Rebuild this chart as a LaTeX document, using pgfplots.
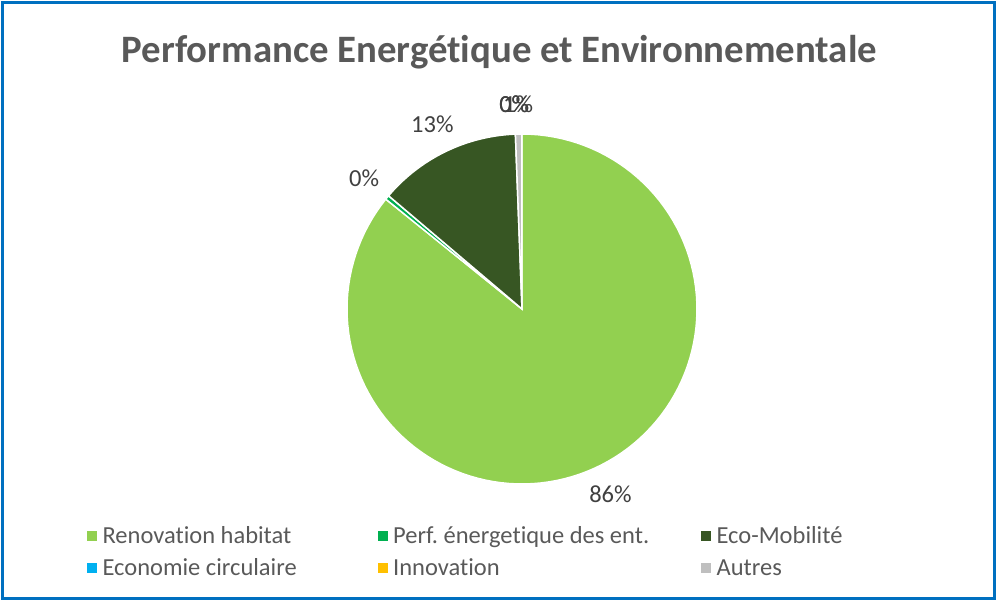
\documentclass[border=0pt]{standalone}
\usepackage{pgfplots}
\pgfplotsset{compat=1.18}
\usepackage{pgfplotstable}
\usepackage{fontspec}
\setmainfont{Carlito}[Ligatures=NoCommon]
\frenchspacing

\definecolor{c0}{HTML}{92D050}
\definecolor{c1}{HTML}{00B050}
\definecolor{c2}{HTML}{375623}
\definecolor{c3}{HTML}{00B0F0}
\definecolor{c4}{HTML}{FFC000}
\definecolor{c5}{HTML}{BFBFBF}
\definecolor{frame}{HTML}{0070C0}
\definecolor{titlegray}{HTML}{595959}
\definecolor{labgray}{HTML}{404040}

% shares in percent, clockwise from 12 o'clock
\pgfplotstableread[col sep=comma]{
name,value
Renovation habitat,85.8
Perf. énergetique des ent.,0.4
Eco-Mobilité,13.2
Economie circulaire,0
Innovation,0
Autres,0.6
}\piedata

\def\cx{522}
\def\cy{292}
\def\rad{175}

\tikzset{lbl/.style={font=\fontsize{24.5bp}{29bp}\selectfont, text=labgray, inner sep=0pt}}
\pgfplotsset{sq/.style={legend image code/.code={%
  \fill[#1] (0bp,-4.5bp) rectangle (9bp,4.5bp);}}}

\begin{document}
\begin{tikzpicture}
\useasboundingbox (0,0) rectangle (997bp,601bp);
\begin{axis}[
  at={(0,0)}, anchor=south west,
  scale only axis, width=997bp, height=601bp,
  xmin=0, xmax=997, ymin=0, ymax=601,
  hide axis, clip=false,
  legend columns=3,
  legend style={draw=none, fill=none, at={(84/997,1-522/601)}, anchor=north west,
    font=\fontsize{24.5bp}{29bp}\selectfont, text=titlegray,
    cells={anchor=west}, row sep=10bp,
    /tikz/column 1/.style={column sep=4bp},
    /tikz/column 3/.style={column sep=4bp},
    /tikz/column 5/.style={column sep=4bp},
    /tikz/column 2/.style={column sep=79bp},
    /tikz/column 4/.style={column sep=50bp}},
]
\def\cum{0}
\pgfplotsforeachungrouped \i in {0,...,5}{%
  \pgfplotstablegetelem{\i}{value}\of\piedata
  \let\v\pgfplotsretval
  \pgfmathsetmacro\aStart{90-3.6*\cum}%
  \pgfmathsetmacro\cumNew{\cum+\v}%
  \pgfmathsetmacro\aEnd{90-3.6*\cumNew}%
  \pgfmathsetmacro\aMid{(\aStart+\aEnd)/2}%
  \pgfmathtruncatemacro\pct{round(\v)}%
  \ifdim\v pt>0pt
    \edef\temp{\noexpand\addplot[fill=c\i, draw=white, line width=1.5bp, forget plot,
      domain=\aEnd:\aStart, samples=120]
      ({\cx+\rad*cos(x)},{\cy+\rad*sin(x)}) -- (axis cs:\cx,\cy) -- cycle;}%
    \temp
  \fi
  \edef\temp{\noexpand\node[lbl] at (axis cs:{\cx+205*cos(\aMid)},{\cy+205*sin(\aMid)}) {\pct\noexpand\%};}%
  \temp
  \let\cum\cumNew
}
\addlegendimage{sq=c0}
\addlegendimage{sq=c1}
\addlegendimage{sq=c2}
\addlegendimage{sq=c3}
\addlegendimage{sq=c4}
\addlegendimage{sq=c5}
\legend{Renovation habitat, Perf. énergetique des ent., Eco-Mobilité, Economie circulaire, Innovation, Autres}

\node[font=\bfseries\fontsize{38.8bp}{42bp}\selectfont, text=titlegray, anchor=base, inner sep=0pt]
  at (axis cs:499.5,538) {Performance Energétique et Environnementale};
\draw[frame, line width=3bp] (axis cs:2.5,2.5) rectangle (axis cs:994.5,598.5);
\end{axis}
\end{tikzpicture}
\end{document}
